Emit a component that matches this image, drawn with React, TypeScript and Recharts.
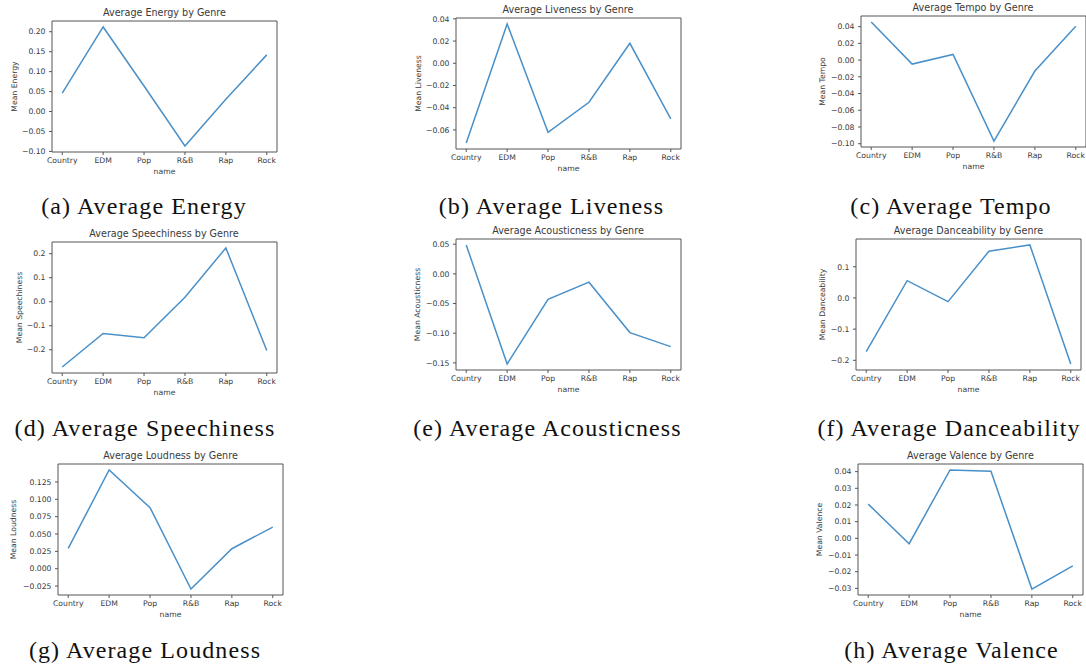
import React from "react"
import { LineChart, Line, XAxis, YAxis, ReferenceArea } from "recharts"

const GENRES = ["Country", "EDM", "Pop", "R&B", "Rap", "Rock"]

const energy = [0.046, 0.212, 0.064, -0.0865, 0.031, 0.142]
const liveness = [-0.0718, 0.0354, -0.0622, -0.0351, 0.018, -0.05]
const tempo = [0.0456, -0.0048, 0.0067, -0.0968, -0.0131, 0.0405]
const speechiness = [-0.272, -0.132, -0.15, 0.019, 0.224, -0.203]
const acousticness = [0.0487, -0.152, -0.043, -0.014, -0.099, -0.1227]
const danceability = [-0.172, 0.0555, -0.0117, 0.15, 0.17, -0.212]
const loudness = [0.0293, 0.1423, 0.088, -0.0293, 0.0288, 0.06]
const valence = [0.0205, -0.0032, 0.041, 0.0402, -0.0304, -0.0165]

const energyTicks = [-0.1, -0.05, 0, 0.05, 0.1, 0.15, 0.2]
const livenessTicks = [-0.06, -0.04, -0.02, 0, 0.02, 0.04]
const tempoTicks = [-0.1, -0.08, -0.06, -0.04, -0.02, 0, 0.02, 0.04]
const speechinessTicks = [-0.2, -0.1, 0, 0.1, 0.2]
const acousticnessTicks = [-0.15, -0.1, -0.05, 0, 0.05]
const danceabilityTicks = [-0.2, -0.1, 0, 0.1]
const loudnessTicks = [-0.025, 0, 0.025, 0.05, 0.075, 0.1, 0.125]
const valenceTicks = [-0.03, -0.02, -0.01, 0, 0.01, 0.02, 0.03, 0.04]

const BOX_W = 225
const BOX_H = 131
const Y_AXIS_W = 52
const X_AXIS_H = 28
const LINE_COLOR = "#4a90c8"
const FRAME = "#555"
const INK = "#3a3a3a"
const SANS = "'DejaVu Sans', sans-serif"

// matplotlib pads the data range by 5% on each side
function padded(values: number[]): [number, number] {
  const lo = Math.min(...values)
  const hi = Math.max(...values)
  const m = (hi - lo) * 0.05
  return [lo - m, hi + m]
}

function fmt(digits: number) {
  return (v: number) => (v < 0 ? "\u2212" + Math.abs(v).toFixed(digits) : v.toFixed(digits))
}

interface PanelProps {
  title: string
  yLabel: string
  values: number[]
  ticks: number[]
  digits: number
  x: number
  y: number
  labelGap: number
}

function Panel({ title, yLabel, values, ticks, digits, x, y, labelGap }: PanelProps) {
  const data = GENRES.map((name, i) => ({ i, name, v: values[i] }))
  const domain = padded(values)
  const top = 2
  const right = 2

  return (
    <>
      <div
        style={{
          position: "absolute",
          left: x,
          top: y - 8 - 6,
          width: BOX_W,
          height: 12,
          lineHeight: "12px",
          textAlign: "center",
          fontFamily: SANS,
          fontSize: 9.6,
          color: INK,
          whiteSpace: "nowrap",
        }}
      >
        {title}
      </div>
      <div style={{ position: "absolute", left: x - Y_AXIS_W, top: y - top }}>
        <LineChart
          width={Y_AXIS_W + BOX_W + right}
          height={top + BOX_H + X_AXIS_H}
          data={data}
          margin={{ top, right, bottom: 0, left: 0 }}
        >
          <XAxis
            dataKey="i"
            type="number"
            domain={[-0.25, 5.25]}
            ticks={[0, 1, 2, 3, 4, 5]}
            interval={0}
            tickFormatter={(i: number) => GENRES[i]}
            height={X_AXIS_H}
            axisLine={false}
            tickLine={{ stroke: FRAME }}
            tickSize={3}
            tickMargin={3}
            tick={{ fill: INK, fontSize: 7.7, fontFamily: SANS }}
            label={{ value: "name", position: "insideBottom", offset: 6, fill: INK, fontSize: 7.7, fontFamily: SANS }}
          />
          <YAxis
            type="number"
            domain={domain}
            ticks={ticks}
            interval={0}
            tickFormatter={fmt(digits)}
            width={Y_AXIS_W}
            axisLine={false}
            tickLine={{ stroke: FRAME }}
            tickSize={3}
            tickMargin={3.5}
            tick={{ fill: INK, fontSize: 7.7, fontFamily: SANS }}
            label={{
              value: yLabel,
              angle: -90,
              position: "insideLeft",
              offset: Y_AXIS_W - labelGap,
              fill: INK,
              fontSize: 7.7,
              fontFamily: SANS,
              style: { textAnchor: "middle" },
            }}
          />
          <ReferenceArea
            x1={-0.25}
            x2={5.25}
            y1={domain[0]}
            y2={domain[1]}
            fill="none"
            stroke={FRAME}
            strokeWidth={1}
          />
          <Line type="linear" dataKey="v" stroke={LINE_COLOR} strokeWidth={1.5} dot={false} isAnimationActive={false} />
        </LineChart>
      </div>
    </>
  )
}

const captions = [
  { text: "(a) Average Energy", x: 144, y: 214 },
  { text: "(b) Average Liveness", x: 551.5, y: 214 },
  { text: "(c) Average Tempo", x: 951, y: 214 },
  { text: "(d) Average Speechiness", x: 145, y: 436 },
  { text: "(e) Average Acousticness", x: 547.5, y: 436 },
  { text: "(f) Average Danceability", x: 949, y: 436 },
  { text: "(g) Average Loudness", x: 145, y: 658 },
  { text: "(h) Average Valence", x: 951.5, y: 658 },
]

export default function App() {
  return (
    <div style={{ position: "absolute", left: 0, top: 0, width: 1086, height: 669, background: "#fff", overflow: "hidden" }}>
      <Panel title="Average Energy by Genre" yLabel="Mean Energy" values={energy} ticks={energyTicks} digits={2} x={52} y={20.5} labelGap={37.7} />
      <Panel title="Average Liveness by Genre" yLabel="Mean Liveness" values={liveness} ticks={livenessTicks} digits={2} x={455.5} y={18} labelGap={38} />
      <Panel title="Average Tempo by Genre" yLabel="Mean Tempo" values={tempo} ticks={tempoTicks} digits={2} x={860.5} y={16} labelGap={39} />
      <Panel title="Average Speechiness by Genre" yLabel="Mean Speechiness" values={speechiness} ticks={speechinessTicks} digits={1} x={51.5} y={242} labelGap={33} />
      <Panel title="Average Acousticness by Genre" yLabel="Mean Acousticness" values={acousticness} ticks={acousticnessTicks} digits={2} x={455.5} y={239} labelGap={39} />
      <Panel title="Average Danceability by Genre" yLabel="Mean Danceability" values={danceability} ticks={danceabilityTicks} digits={1} x={856} y={238.5} labelGap={34} />
      <Panel title="Average Loudness by Genre" yLabel="Mean Loudness" values={loudness} ticks={loudnessTicks} digits={3} x={58} y={464} labelGap={44.7} />
      <Panel title="Average Valence by Genre" yLabel="Mean Valence" values={valence} ticks={valenceTicks} digits={2} x={858} y={464} labelGap={38.7} />
      <svg width={1086} height={669} style={{ position: "absolute", left: 0, top: 0, pointerEvents: "none" }}>
        {captions.map((c) => (
          <text
            key={c.text}
            x={c.x}
            y={c.y}
            textAnchor="middle"
            fontFamily="'Liberation Serif', serif"
            fontSize={24}
            letterSpacing={1.1}
            fill="#111"
          >
            {c.text}
          </text>
        ))}
      </svg>
    </div>
  )
}
